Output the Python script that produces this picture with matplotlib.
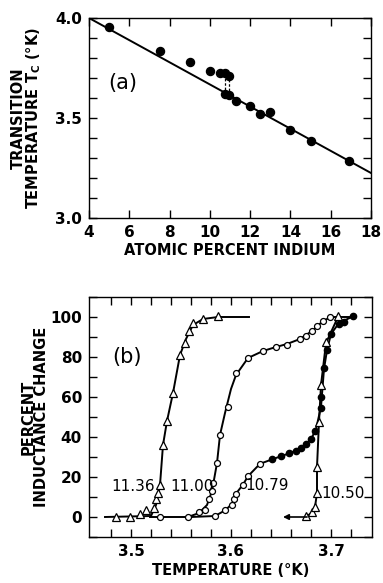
import matplotlib
matplotlib.use("Agg")
import matplotlib.pyplot as plt
from matplotlib.ticker import MultipleLocator

plt.rcParams['font.family'] = ['DejaVu Sans']

# panel (a): Tc vs indium content
x_a = [5, 7.5, 9, 10, 10.5, 10.75, 10.95, 10.75, 10.95, 11.3, 12, 12.5, 13, 14, 15, 16.9]
tc_a = [3.953, 3.837, 3.778, 3.735, 3.724, 3.724, 3.71, 3.622, 3.613, 3.583,
        3.562, 3.52, 3.528, 3.438, 3.383, 3.283]
fit_x = [4, 18]
fit_tc = [4.0, 3.225]
split_x = [10.75, 10.95]
split_lo = [3.622, 3.613]
split_hi = [3.724, 3.71]

# panel (b): transition curves
t_1136 = [3.485, 3.499, 3.509, 3.515, 3.523, 3.525, 3.527, 3.529, 3.532, 3.536,
          3.542, 3.549, 3.554, 3.558, 3.562, 3.572, 3.587]
p_1136 = [0, 0, 1.5, 3.5, 4.3, 9, 12, 16, 36, 48, 62, 81, 87, 93, 97, 99, 100.5]
line_t_1136 = [3.474, 3.52, 3.525, 3.529, 3.532, 3.536, 3.542, 3.549, 3.555,
               3.562, 3.572, 3.587, 3.618]
line_p_1136 = [0, 0.5, 6, 16, 36, 48, 62, 81, 89, 96, 99, 100, 100]

t_1100 = [3.529, 3.557, 3.568, 3.574, 3.578, 3.581, 3.582, 3.586, 3.589, 3.597,
          3.605, 3.617, 3.632, 3.645, 3.656, 3.669, 3.675, 3.681, 3.686, 3.692, 3.699]
p_1100 = [0, 0, 2.5, 3.7, 9, 13, 17, 27, 41, 55, 72, 79.5, 83, 85, 86, 89, 90.6,
          93, 95.6, 98, 100]
line_t_1100 = [3.519, 3.557, 3.568, 3.576, 3.581, 3.586, 3.589, 3.594, 3.600,
               3.605, 3.617, 3.632, 3.645, 3.656, 3.669, 3.681, 3.692, 3.700, 3.708]
line_p_1100 = [0, 0, 2, 6, 13, 27, 41, 52, 64, 71, 79.5, 83, 85, 86.5, 89, 93,
               98, 100, 100]

t_1079_open = [3.584, 3.594, 3.601, 3.603, 3.605, 3.612, 3.617, 3.629]
p_1079_open = [0.7, 3.3, 5.8, 9.2, 11.7, 16.2, 20.4, 26.6]
t_1079_full = [3.641, 3.650, 3.658, 3.665, 3.670, 3.675, 3.680, 3.684, 3.690,
               3.690, 3.693, 3.696, 3.700, 3.708, 3.713, 3.722]
p_1079_full = [28.8, 30.4, 31.8, 32.9, 34.3, 36.3, 38.8, 43, 54.7, 60, 74.3,
               83.4, 91.5, 96.5, 97.3, 100.3]
line_t_1079 = [3.56, 3.584, 3.594, 3.601, 3.605, 3.612, 3.617, 3.629, 3.641,
               3.658, 3.670, 3.680, 3.685, 3.690, 3.693, 3.696, 3.700, 3.708, 3.722]
line_p_1079 = [0, 0.5, 3.3, 6.5, 11.7, 16.2, 20.4, 26.6, 28.8, 31.8, 34.3,
               38.8, 44, 55, 74, 83.4, 91.5, 97, 100.3]

t_1050 = [3.675, 3.681, 3.684, 3.686, 3.686, 3.688, 3.690, 3.695, 3.707]
p_1050 = [0.6, 2.3, 5, 12, 25, 47.5, 66, 87.3, 100.5]
line_t_1050 = [3.675, 3.681, 3.684, 3.686, 3.686, 3.688, 3.690, 3.695, 3.707, 3.722]
line_p_1050 = [0, 2.3, 5, 12, 25, 47.5, 66, 87, 100, 100]

labels_b = ['11.36', '11.00', '10.79', '10.50']
label_t = [3.502, 3.561, 3.636, 3.712]
label_p = [15.4, 15.4, 16, 11.7]

fig = plt.figure(figsize=(3.83, 5.83), dpi=100)
lab = dict(fontsize=10.5, fontweight='bold')

# ---- (a)
ax1 = fig.add_axes([89/383, 1-218/583, 282/383, 200/583])
ax1.plot(fit_x, fit_tc, color='black', lw=1.4)
ax1.vlines(split_x, split_lo, split_hi, colors='black', linestyles=(0, (2, 1.5)), lw=0.9)
ax1.plot(x_a, tc_a, 'o', color='black', ms=5.8)
ax1.set_xlim(4, 18)
ax1.set_ylim(3.0, 4.0)
ax1.xaxis.set_major_locator(MultipleLocator(2))
ax1.yaxis.set_minor_locator(MultipleLocator(0.1))
ax1.set_yticks([3.0, 3.5, 4.0])
ax1.set_yticklabels(['3.0', '3.5', '4.0'])
ax1.text(5.7, 3.675, '(a)', fontsize=15, ha='center', va='center')
ax1.set_xlabel('ATOMIC PERCENT INDIUM', labelpad=2, **lab)
ax1.set_ylabel('TRANSITION\nTEMPERATURE T$_\\mathregular{C}$ (°K)', labelpad=9,
               linespacing=0.85, **lab)

# ---- (b)
ax2 = fig.add_axes([89/383, 1-537/583, 283/383, 240/583])
ax2.plot(line_t_1136, line_p_1136, color='black', lw=1.4)
ax2.plot(line_t_1100, line_p_1100, color='black', lw=1.4)
ax2.plot(line_t_1079, line_p_1079, color='black', lw=1.4)
ax2.plot(line_t_1050, line_p_1050, color='black', lw=1.4)
ax2.annotate('', xy=(3.652, 0), xytext=(3.676, 0),
             arrowprops=dict(arrowstyle='-|>', color='black', lw=1.2,
                             mutation_scale=8, shrinkA=0, shrinkB=0))
ax2.plot(t_1136, p_1136, '^', mfc='white', mec='black', ms=6, mew=0.9)
ax2.plot(t_1100, p_1100, 'o', mfc='white', mec='black', ms=4.3, mew=0.9)
ax2.plot(t_1079_open, p_1079_open, 'o', mfc='white', mec='black', ms=4.3, mew=0.9)
ax2.plot(t_1079_full, p_1079_full, 'o', color='black', ms=4.5)
ax2.plot(t_1050, p_1050, '^', mfc='white', mec='black', ms=6, mew=0.9)
for s, t, p in zip(labels_b, label_t, label_p):
    ax2.text(t, p, s, fontsize=11, ha='center', va='center')
ax2.text(3.496, 80, '(b)', fontsize=15, ha='center', va='center')
ax2.set_xlim(3.458, 3.741)
ax2.set_ylim(-10, 110)
ax2.set_xticks([3.48, 3.50, 3.52, 3.54, 3.56, 3.58, 3.60, 3.62, 3.64, 3.66, 3.68, 3.70, 3.72])
ax2.set_xticklabels(['', '3.5', '', '', '', '', '3.6', '', '', '', '', '3.7', ''])
ax2.set_yticks([0, 20, 40, 60, 80, 100])
ax2.yaxis.set_minor_locator(MultipleLocator(10))
ax2.set_xlabel('TEMPERATURE (°K)', labelpad=3, **lab)
ax2.set_ylabel('PERCENT\nINDUCTANCE CHANGE', labelpad=1, linespacing=0.85, **lab)

for ax in (ax1, ax2):
    ax.tick_params(which='both', direction='in', top=True, right=True, width=1)
    ax.tick_params(which='major', length=6, labelsize=11, pad=5)
    ax.tick_params(which='minor', length=6)
    for lbl in ax.get_xticklabels() + ax.get_yticklabels():
        lbl.set_fontweight('bold')
    for sp in ax.spines.values():
        sp.set_linewidth(1.0)

fig.savefig('out.png', dpi=100)
